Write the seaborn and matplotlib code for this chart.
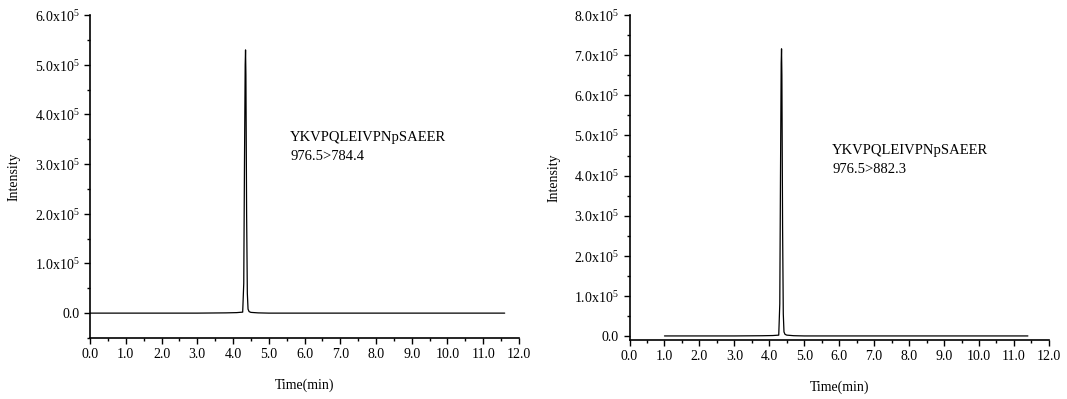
import matplotlib
matplotlib.use("Agg")
import matplotlib.pyplot as plt
import seaborn as sns
import pandas as pd
from matplotlib.ticker import FuncFormatter, MultipleLocator

# chromatogram 1: 976.5>784.4
time_a = [0.0, 1.0, 2.0, 3.0, 3.8, 4.1, 4.27, 4.30, 4.32, 4.34, 4.35, 4.36, 4.38,
          4.40, 4.42, 4.45, 4.5, 4.7, 5.0, 6.0, 7.0, 8.0, 9.0, 10.0, 11.0, 11.6]
inten_a = [0, 0, 0, 0, 500, 1000, 2000, 60000, 300000, 500000, 530000, 480000,
           200000, 40000, 8000, 3000, 1500, 500, 0, 0, 0, 0, 0, 0, 0, 0]

# chromatogram 2: 976.5>882.3
time_b = [1.0, 2.0, 3.0, 3.8, 4.1, 4.27, 4.30, 4.32, 4.34, 4.35, 4.36, 4.38,
          4.40, 4.42, 4.45, 4.5, 4.7, 5.0, 6.0, 7.0, 8.0, 9.0, 10.0, 11.0, 11.4]
inten_b = [0, 0, 0, 500, 1000, 2000, 80000, 400000, 680000, 716000, 650000,
           270000, 55000, 10000, 4000, 2000, 600, 0, 0, 0, 0, 0, 0, 0, 0]

peptide = "YKVPQLEIVPNpSAEER"
transitions = ["976.5>784.4", "976.5>882.3"]
y_tops = [6.0e5, 8.0e5]
y_bottoms = [-0.5e5, -0.1e5]
x_ticks = [0, 1, 2, 3, 4, 5, 6, 7, 8, 9, 10, 11, 12]

sns.set_style("ticks")
plt.rcParams['font.family'] = ['Liberation Serif', 'DejaVu Serif']
plt.rcParams['mathtext.fontset'] = 'custom'
plt.rcParams['mathtext.rm'] = 'Liberation Serif'
plt.rcParams['font.size'] = 10
for k in ['text.color', 'axes.labelcolor', 'xtick.color', 'ytick.color',
          'axes.edgecolor']:
    plt.rcParams[k] = 'black'


def sci_fmt(v, pos):
    if abs(v) < 1:
        return "0.0"
    return r"%.1fx10$^{\mathregular{5}}$" % (v / 1e5)


fig = plt.figure(figsize=(10.67, 3.99), dpi=100)
ax1 = fig.add_axes([0.0844, 0.153, 0.402, 0.809])
ax2 = fig.add_axes([0.590, 0.148, 0.393, 0.814])

frames = [pd.DataFrame({"t": time_a, "i": inten_a}),
          pd.DataFrame({"t": time_b, "i": inten_b})]
text_pos = [(5.6, 3.53e5, 3.15e5), (5.8, 4.62e5, 4.15e5)]

for ax, df, ytop, ybot, tr, tp in zip([ax1, ax2], frames, y_tops, y_bottoms,
                                      transitions, text_pos):
    sns.lineplot(data=df, x="t", y="i", ax=ax, color="black", linewidth=0.9,
                 sort=False, estimator=None)
    ax.set_xlim(0, 12)
    ax.set_ylim(ybot, ytop)
    ax.set_xticks(x_ticks)
    ax.set_xticklabels([f"{v:.1f}" for v in x_ticks])
    ax.xaxis.set_minor_locator(MultipleLocator(0.5))
    ax.yaxis.set_major_locator(MultipleLocator(1e5))
    ax.yaxis.set_minor_locator(MultipleLocator(0.5e5))
    ax.yaxis.set_major_formatter(FuncFormatter(sci_fmt))
    ax.tick_params(which="major", length=4, width=1, labelsize=10)
    ax.tick_params(which="minor", length=2.5, width=1)
    for s in ["left", "bottom"]:
        ax.spines[s].set_linewidth(1.2)
    sns.despine(ax=ax)
    ax.set_xlabel("Time(min)", fontsize=10, labelpad=12)
    ax.set_ylabel("Intensity", fontsize=10, labelpad=10)
    ax.text(tp[0], tp[1], peptide, fontsize=10.5, va="center", ha="left")
    ax.text(tp[0], tp[2], tr, fontsize=10.5, va="center", ha="left")

fig.savefig("out.png", dpi=100)
